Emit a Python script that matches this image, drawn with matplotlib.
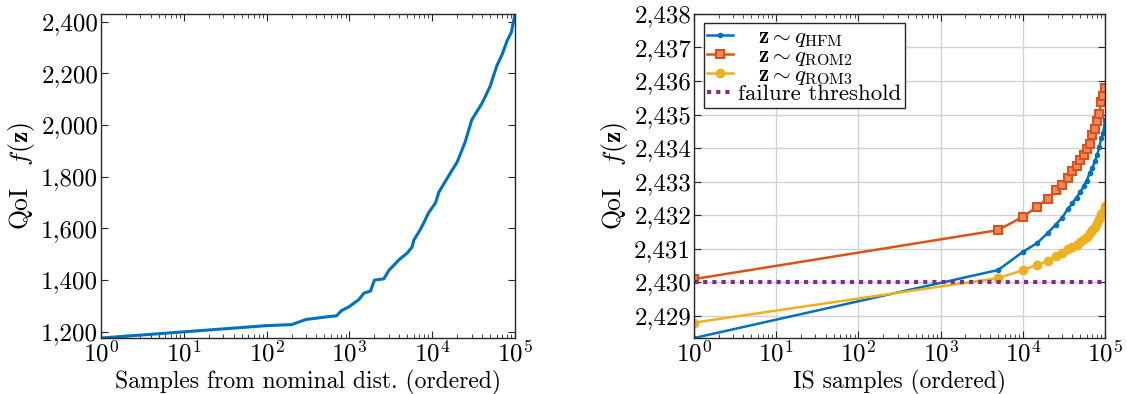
import numpy as np
import matplotlib
matplotlib.use("Agg")
import matplotlib.pyplot as plt
from matplotlib.ticker import FuncFormatter, LogLocator, NullFormatter, MultipleLocator

plt.rcParams["font.family"] = "serif"
plt.rcParams["font.serif"] = ["cmr10"]
plt.rcParams["mathtext.fontset"] = "cm"
plt.rcParams["axes.formatter.use_mathtext"] = True

# left panel: QoI of samples from the nominal distribution (ordered)
nom_x = [1, 10, 100, 200, 300, 600, 700, 800, 1000, 1300, 1500, 1800, 2000, 2600,
         3000, 4000, 5000, 5700, 6000, 7000, 8000, 9000, 11000, 12000, 15000,
         20000, 25000, 30000, 40000, 50000, 60000, 70000, 80000, 90000, 100000]
nom_y = [1176, 1200, 1224, 1228, 1248, 1260, 1262, 1282, 1298, 1325, 1350, 1358, 1400, 1405,
         1438, 1480, 1505, 1528, 1555, 1590, 1625, 1660, 1700, 1740, 1792,
         1857, 1935, 2020, 2085, 2150, 2228, 2274, 2326, 2358, 2430]

# right panel: IS samples (ordered)
is_x = [1, 5000, 10000, 15000, 20000, 25000, 30000, 35000, 40000, 45000, 50000,
        55000, 60000, 65000, 70000, 75000, 80000, 85000, 90000, 95000, 100000]
hfm = [2428.33, 2430.36, 2430.90, 2431.17, 2431.46, 2431.71, 2431.92, 2432.17, 2432.35,
       2432.52, 2432.69, 2432.86, 2433.03, 2433.25, 2433.40, 2433.60, 2433.78, 2434.03,
       2434.30, 2434.45, 2434.85]
rom2 = [2430.09, 2431.55, 2431.95, 2432.25, 2432.49, 2432.74, 2432.91, 2433.12, 2433.30,
        2433.45, 2433.63, 2433.80, 2433.96, 2434.13, 2434.38, 2434.58, 2434.80, 2435.03,
        2435.36, 2435.55, 2435.80]
rom3 = [2428.79, 2430.12, 2430.35, 2430.52, 2430.62, 2430.78, 2430.88, 2430.98, 2431.05,
        2431.12, 2431.20, 2431.28, 2431.36, 2431.45, 2431.54, 2431.64, 2431.75, 2431.88,
        2432.02, 2432.10, 2432.28]
threshold = 2430

blue = "#0072BD"
red = "#D95319"
yellow = "#EDB120"
purple = "#7E2F8E"

fs = 17
ylab = r"QoI$\quad f(\mathbf{z})$"
comma = FuncFormatter(lambda v, p: f"{v:,.0f}")

fig = plt.figure(figsize=(11.27, 3.94), dpi=100)
ax1 = fig.add_axes([0.0896, 0.142, 0.3674, 0.8225])
ax2 = fig.add_axes([0.6158, 0.142, 0.3647, 0.8225])

ax1.plot(nom_x, nom_y, color=blue, lw=2.2)
ax1.set_xscale("log")
ax1.set_xlim(1, 1e5)
ax1.set_ylim(1176, 2430)
ax1.yaxis.set_major_locator(MultipleLocator(200))
ax1.yaxis.set_major_formatter(comma)
ax1.set_xlabel("Samples from nominal dist. (ordered)", fontsize=fs, labelpad=2)
ax1.set_ylabel(ylab, fontsize=18.5, labelpad=3)

ax2.grid(True, color="#d2d2d2", lw=1)
ax2.plot(is_x, hfm, color=blue, lw=1.8, marker=".", ms=6,
         label=r"$\quad\mathbf{z}\sim q_{\mathrm{HFM}}$")
ax2.plot(is_x, rom2, color=red, lw=1.8, marker="s", ms=5.5, mfc="#ec8a5e", mew=1.5,
         label=r"$\quad\mathbf{z}\sim q_{\mathrm{ROM2}}$")
ax2.plot(is_x, rom3, color=yellow, lw=1.8, marker="o", ms=6,
         label=r"$\quad\mathbf{z}\sim q_{\mathrm{ROM3}}$")
ax2.plot([is_x[0], is_x[-1]], [threshold, threshold], color=purple, lw=3,
         linestyle=(0, (1, 1.2)), dash_capstyle="butt", label="failure threshold")
ax2.set_xscale("log")
ax2.set_xlim(1, 1e5)
ax2.set_ylim(2428.33, 2438)
ax2.yaxis.set_major_locator(MultipleLocator(1))
ax2.yaxis.set_major_formatter(comma)
ax2.set_xlabel("IS samples (ordered)", fontsize=fs, labelpad=2)
ax2.set_ylabel(ylab, fontsize=18.5, labelpad=3)
leg = ax2.legend(loc="upper left", fontsize=16.5, fancybox=False, edgecolor="#262626",
                 framealpha=1, handlelength=1.1, handletextpad=0.25, borderpad=0.15,
                 labelspacing=-0.12, borderaxespad=0, bbox_to_anchor=(0.024, 0.972))
leg.get_frame().set_linewidth(1)

for ax in (ax1, ax2):
    ax.xaxis.set_major_locator(LogLocator(base=10, numticks=10))
    ax.xaxis.set_minor_locator(LogLocator(base=10, subs=np.arange(2, 10), numticks=10))
    ax.xaxis.set_minor_formatter(NullFormatter())
    ax.tick_params(which="both", direction="in", top=True, right=True,
                   labelsize=fs + 1, color="#262626", pad=2)
    ax.tick_params(which="major", length=5)
    ax.tick_params(which="minor", length=3)
    for s in ax.spines.values():
        s.set_color("#262626")
        s.set_linewidth(1)

fig.savefig("out.png", dpi=100)
